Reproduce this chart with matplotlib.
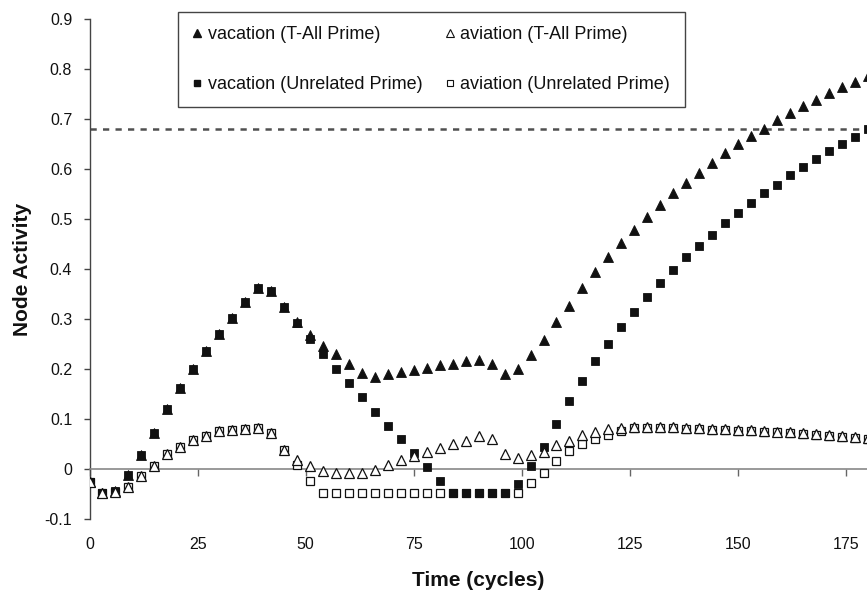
import matplotlib
matplotlib.use("Agg")
import matplotlib.pyplot as plt
from matplotlib.lines import Line2D
import numpy as np

plt.rcParams['font.family'] = ['Liberation Sans', 'DejaVu Sans']

# time points (cycles)
time = list(range(0, 181, 3))

vac_tall = [-0.025, -0.047, -0.043, -0.011, 0.028, 0.073, 0.121, 0.162, 0.200, 0.237,
            0.271, 0.303, 0.334, 0.363, 0.356, 0.324, 0.294, 0.269, 0.247, 0.231,
            0.211, 0.193, 0.184, 0.191, 0.194, 0.199, 0.202, 0.208, 0.211, 0.216,
            0.219, 0.210, 0.190, 0.201, 0.228, 0.259, 0.294, 0.327, 0.363, 0.394,
            0.425, 0.452, 0.478, 0.504, 0.529, 0.553, 0.573, 0.593, 0.613, 0.632,
            0.650, 0.667, 0.681, 0.699, 0.713, 0.727, 0.739, 0.753, 0.764, 0.775, 0.786]

vac_unrel = [-0.025, -0.047, -0.043, -0.011, 0.028, 0.073, 0.121, 0.162, 0.200, 0.237,
             0.271, 0.303, 0.334, 0.363, 0.356, 0.324, 0.293, 0.261, 0.231, 0.201,
             0.172, 0.144, 0.115, 0.086, 0.061, 0.033, 0.005, -0.024, -0.047, -0.047,
             -0.047, -0.047, -0.047, -0.029, 0.006, 0.045, 0.090, 0.136, 0.176, 0.216,
             0.250, 0.284, 0.315, 0.344, 0.372, 0.399, 0.424, 0.446, 0.469, 0.492,
             0.512, 0.532, 0.552, 0.569, 0.589, 0.605, 0.620, 0.637, 0.651, 0.665, 0.680]

avi_tall = [-0.025, -0.048, -0.045, -0.035, -0.014, 0.007, 0.030, 0.045, 0.058, 0.066,
            0.076, 0.078, 0.080, 0.083, 0.072, 0.039, 0.018, 0.006, -0.004, -0.007,
            -0.007, -0.007, -0.001, 0.009, 0.018, 0.026, 0.034, 0.043, 0.051, 0.057,
            0.066, 0.061, 0.031, 0.022, 0.028, 0.035, 0.048, 0.056, 0.069, 0.074,
            0.080, 0.082, 0.084, 0.085, 0.085, 0.084, 0.083, 0.082, 0.081, 0.080,
            0.079, 0.078, 0.077, 0.075, 0.074, 0.072, 0.070, 0.068, 0.066, 0.064, 0.062]

avi_unrel = [-0.025, -0.048, -0.045, -0.035, -0.014, 0.006, 0.030, 0.045, 0.058, 0.066,
             0.076, 0.078, 0.080, 0.083, 0.072, 0.038, 0.008, -0.024, -0.047, -0.047,
             -0.047, -0.047, -0.047, -0.047, -0.047, -0.047, -0.047, -0.047, -0.047, -0.047,
             -0.047, -0.047, -0.047, -0.047, -0.027, -0.007, 0.016, 0.036, 0.051, 0.061,
             0.069, 0.076, 0.082, 0.083, 0.083, 0.082, 0.081, 0.080, 0.079, 0.078,
             0.077, 0.076, 0.075, 0.074, 0.072, 0.071, 0.069, 0.067, 0.065, 0.063, 0.061]

threshold = 0.68

labels = ["vacation (T-All Prime)", "vacation (Unrelated Prime)",
          "aviation (T-All Prime)", "aviation (Unrelated Prime)"]
x_ticks = [0, 25, 50, 75, 100, 125, 150, 175]
y_ticks = [-0.1, 0, 0.1, 0.2, 0.3, 0.4, 0.5, 0.6, 0.7, 0.8, 0.9]
y_ticklabels = ["-0.1", "0", "0.1", "0.2", "0.3", "0.4", "0.5", "0.6", "0.7", "0.8", "0.9"]

W, H = 867, 596
fig = plt.figure(figsize=(W / 100, H / 100), dpi=100)
left_px, top_px, bottom_px = 89.5, 19, 519
ax = fig.add_axes([left_px / W, 1 - bottom_px / H, (W - left_px) / W, (bottom_px - top_px) / H])

ink = "#111111"
ax.plot(time, avi_unrel, linestyle="none", marker="s", markersize=5.3,
        markerfacecolor="white", markeredgecolor=ink, markeredgewidth=0.9, zorder=3)
ax.plot(time, vac_tall, linestyle="none", marker="^", markersize=7.6,
        markerfacecolor=ink, markeredgecolor=ink, markeredgewidth=0.6, zorder=4)
ax.plot(time, vac_unrel, linestyle="none", marker="s", markersize=6.2,
        markerfacecolor=ink, markeredgecolor=ink, markeredgewidth=0.6, zorder=5)
ax.plot(time, avi_tall, linestyle="none", marker="^", markersize=7.0,
        markerfacecolor="white", markeredgecolor=ink, markeredgewidth=0.9, zorder=6)

ax.axhline(threshold, color="#505050", linewidth=1.8, dashes=(2.5, 2.5), zorder=2)

ax.set_xlim(0, (W - left_px) / 4.324)
ax.set_ylim(-0.1, 0.9)

for s in ("top", "right"):
    ax.spines[s].set_visible(False)
ax.spines["left"].set_color("#444444")
ax.spines["left"].set_linewidth(1.0)
ax.spines["bottom"].set_position(("data", 0))
ax.spines["bottom"].set_color("#888888")
ax.spines["bottom"].set_linewidth(1.2)

ax.set_xticks(x_ticks)
ax.set_xticklabels([str(v) for v in x_ticks])
ax.set_yticks(y_ticks)
ax.set_yticklabels(y_ticklabels)
ax.tick_params(axis="y", direction="out", length=4, width=1, color="#444444",
               labelsize=11.5, pad=8.5, labelcolor="#111111")
ax.tick_params(axis="x", direction="out", length=5, width=1, color="#666666",
               labelsize=11.5, pad=44, labelcolor="#111111")

ax.set_xlabel("Time (cycles)", fontsize=15, fontweight="bold", color="#111111")
ax.set_ylabel("Node Activity", fontsize=15, fontweight="bold", color="#111111")
ax.xaxis.set_label_coords(0.5, -0.103)
ax.yaxis.set_label_coords(-0.074, 0.5)

handles = [
    Line2D([], [], linestyle="none", marker="^", markersize=6, markerfacecolor=ink, markeredgecolor=ink),
    Line2D([], [], linestyle="none", marker="s", markersize=4.5, markerfacecolor=ink, markeredgecolor=ink),
    Line2D([], [], linestyle="none", marker="^", markersize=6, markerfacecolor="white", markeredgecolor=ink, markeredgewidth=0.8),
    Line2D([], [], linestyle="none", marker="s", markersize=4.5, markerfacecolor="white", markeredgecolor=ink, markeredgewidth=0.8),
]
leg = ax.legend(handles, labels, ncol=2, loc="upper left",
                bbox_to_anchor=(178 / W, 1 - 12 / H), bbox_transform=fig.transFigure,
                borderaxespad=0, fontsize=13, frameon=True, fancybox=False,
                edgecolor="#444444", framealpha=1, handlelength=0.5, handletextpad=0.35,
                columnspacing=1.25, labelspacing=1.8, borderpad=0.8)
leg.get_frame().set_linewidth(1.0)
for t in leg.get_texts():
    t.set_color("#111111")

fig.savefig("out.png", dpi=100)
